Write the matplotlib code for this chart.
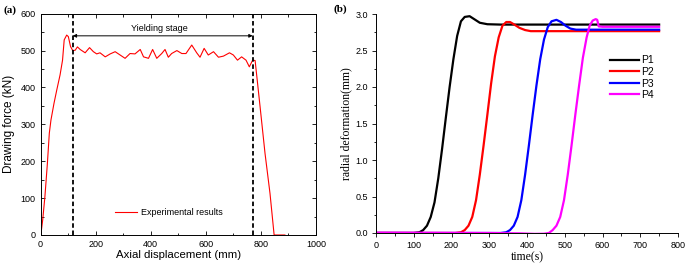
import numpy as np
import matplotlib
matplotlib.use('Agg')
import matplotlib.pyplot as plt
from matplotlib.ticker import MultipleLocator, FormatStrFormatter

# (a) drawing force vs axial displacement
disp = [0, 2, 8, 16, 25, 32, 38, 49, 59, 71, 80, 86, 95, 101, 109, 117,
        126, 134, 144, 162, 178, 192, 204, 216, 235, 253, 271, 289, 307,
        325, 343, 362, 374, 392, 407, 422, 440, 452, 464, 476, 495, 513,
        528, 549, 567, 579, 594, 609, 628, 646, 664, 686, 700, 715, 730,
        746, 758, 770, 779, 797, 815, 833, 848, 887]
force = [4, 5, 41, 104, 194, 276, 312, 357, 393, 434, 474, 529, 542, 538,
         511, 500, 501, 510, 503, 494, 508, 497, 491, 494, 483, 491, 497,
         488, 479, 492, 491, 503, 483, 479, 503, 479, 492, 503, 482, 492,
         500, 492, 492, 515, 494, 482, 506, 488, 497, 482, 485, 494, 488,
         474, 483, 474, 456, 474, 473, 348, 221, 113, 0, 0]
yield_start = 117
yield_end = 770

# (b) radial deformation vs time
t1 = [0, 100, 115, 125, 135, 145, 155, 165, 175, 185, 195, 205, 215, 225,
      235, 248, 260, 275, 295, 330, 750]
p1 = [0, 0, 0.01, 0.04, 0.1, 0.22, 0.42, 0.75, 1.15, 1.58, 2.0, 2.38, 2.7,
      2.9, 2.96, 2.97, 2.93, 2.88, 2.86, 2.855, 2.855]
t2 = [0, 210, 225, 235, 245, 255, 265, 275, 285, 295, 305, 315, 325, 335,
      345, 355, 365, 380, 395, 410, 750]
p2 = [0, 0, 0.01, 0.04, 0.1, 0.22, 0.45, 0.8, 1.2, 1.62, 2.05, 2.42, 2.68,
      2.84, 2.89, 2.89, 2.86, 2.81, 2.78, 2.765, 2.765]
t3 = [0, 330, 345, 355, 365, 375, 385, 395, 405, 415, 425, 435, 445, 455,
      465, 478, 490, 502, 515, 530, 750]
p3 = [0, 0, 0.01, 0.04, 0.1, 0.22, 0.45, 0.8, 1.2, 1.62, 2.02, 2.38, 2.65,
      2.82, 2.9, 2.92, 2.89, 2.84, 2.8, 2.785, 2.785]
t4 = [0, 300, 380, 420, 445, 458, 468, 478, 488, 498, 508, 518, 528, 538,
      548, 558, 566, 574, 582, 586, 590, 600, 750]
p4 = [0.005, 0, -0.005, -0.012, -0.01, 0, 0.04, 0.1, 0.22, 0.45, 0.8, 1.2,
      1.62, 2.02, 2.4, 2.68, 2.84, 2.91, 2.93, 2.92, 2.83, 2.825, 2.825]
series_b = [('P1', t1, p1, 'black'), ('P2', t2, p2, 'red'),
            ('P3', t3, p3, 'blue'), ('P4', t4, p4, 'magenta')]

sans = 'Liberation Sans'
serif = 'Liberation Serif'
plt.rcParams['font.family'] = sans

W, H = 685, 267
fig = plt.figure(figsize=(W / 100, H / 100), dpi=100)

# ---- panel (a)
ax = fig.add_axes([40.5 / W, 1 - 235 / H, 275.5 / W, 221.3 / H])
ax.plot(disp, force, color='red', lw=0.8, label='Experimental results')
for xv in (yield_start, yield_end):
    ax.plot([xv, xv], [0, 600], color='black', ls=(0, (2.5, 1.5)), lw=1.3)
ax.annotate('', xy=(yield_start, 540), xytext=(yield_end, 540),
            arrowprops=dict(arrowstyle='<|-|>', color='black', lw=0.7,
                            mutation_scale=5, shrinkA=0, shrinkB=0))
ax.text(430, 560, 'Yielding stage', ha='center', va='center', fontsize=6.5)
ax.set_xlim(0, 1000)
ax.set_ylim(0, 600)
ax.xaxis.set_major_locator(MultipleLocator(200))
ax.xaxis.set_minor_locator(MultipleLocator(100))
ax.yaxis.set_major_locator(MultipleLocator(100))
ax.yaxis.set_minor_locator(MultipleLocator(50))
ax.tick_params(which='both', direction='in', top=True, right=True,
               labelsize=6.5, width=0.6, pad=3.5)
ax.tick_params(which='major', length=3)
ax.tick_params(which='minor', length=1.8)
for s in ax.spines.values():
    s.set_linewidth(0.7)
ax.set_xlabel('Axial displacement (mm)', fontsize=8.2)
ax.set_ylabel('Drawing force (kN)', fontsize=8.5)
ax.xaxis.set_label_coords(0.5, -0.068)
ax.yaxis.set_label_coords(-0.094, 0.5)
ax.legend(loc='center left', bbox_to_anchor=(0.257, 0.1), frameon=False,
          fontsize=6.5, handlelength=2.5, handletextpad=0.4,
          borderaxespad=0)

# ---- panel (b)
bx = fig.add_axes([376 / W, 1 - 233 / H, 302 / W, 219 / H])
for name, tt, pp, col in series_b:
    bx.plot(tt, pp, color=col, lw=1.6, label=name)
bx.set_xlim(0, 800)
bx.set_ylim(0, 3.0)
bx.xaxis.set_major_locator(MultipleLocator(100))
bx.xaxis.set_minor_locator(MultipleLocator(50))
bx.yaxis.set_major_locator(MultipleLocator(0.5))
bx.yaxis.set_minor_locator(MultipleLocator(0.25))
bx.yaxis.set_major_formatter(FormatStrFormatter('%.1f'))
bx.spines['top'].set_visible(False)
bx.spines['right'].set_visible(False)
for s in ('left', 'bottom'):
    bx.spines[s].set_linewidth(0.7)
bx.tick_params(which='both', direction='out', labelsize=6.5, width=0.6, pad=3)
bx.tick_params(which='major', length=3)
bx.tick_params(which='minor', length=1.8)
bx.set_xlabel('time(s)', fontsize=8.5, family=serif)
bx.set_ylabel('radial deformation(mm)', fontsize=8.5, family=serif)
bx.xaxis.set_label_coords(0.5, -0.082)
bx.yaxis.set_label_coords(-0.079, 0.5)
bx.legend(loc='upper left', bbox_to_anchor=(0.76, 0.83), frameon=False,
          fontsize=7.5, handlelength=2.8, handletextpad=0.2,
          labelspacing=0.15, borderaxespad=0)

fig.text(4 / W, 1 - 10 / H, '(a)', fontsize=8, fontweight='bold',
         family=serif, va='center')
fig.text(334 / W, 1 - 9 / H, '(b)', fontsize=8, fontweight='bold',
         family=serif, va='center')

fig.savefig('out.png', dpi=100)
